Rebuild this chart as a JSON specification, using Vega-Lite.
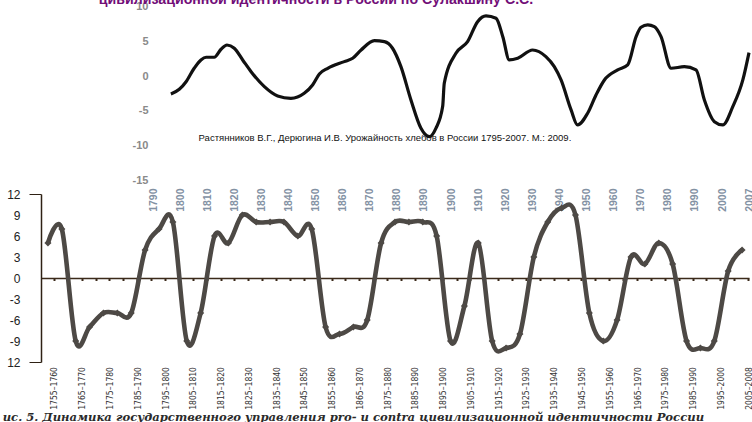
{
  "$schema": "https://vega.github.io/schema/vega-lite/v6.json",
  "background": "white",
  "padding": {"left": 2, "top": 0, "right": 0, "bottom": 0},
  "autosize": {"type": "pad"},
  "config": {"view": {"stroke": null}, "axis": {"grid": false, "labelOverlap": false}},
  "spacing": 14,
  "bounds": "flush",
  "vconcat": [
    {
      "width": 708,
      "height": 180,
      "encoding": {
        "x": {
          "field": "year", "type": "quantitative",
          "scale": {"domain": [1790, 2000, 2007], "range": [112, 681, 708], "nice": false, "zero": false},
          "axis": {
            "values": [1790, 1800, 1810, 1820, 1830, 1840, 1850, 1860, 1870, 1880, 1890, 1900, 1910, 1920, 1930, 1940, 1950, 1960, 1970, 1980, 1990, 2000, 2007],
            "format": "d", "labelAngle": 270, "labelPadding": 8, "domain": false, "ticks": false,
            "labelFont": "Liberation Sans", "labelFontSize": 10.5, "labelFontWeight": "bold",
            "labelColor": "#8391a3", "title": null, "labelOverlap": false, "labelFlush": false, "labelSeparation": 0
          }
        },
        "y": {
          "field": "value", "type": "quantitative",
          "scale": {"domain": [-15, 11], "nice": false, "zero": false},
          "axis": {
            "values": [-15, -10, -5, 0, 5, 10], "offset": -112, "domain": false, "ticks": false,
            "labelPadding": 5, "labelExpr": "toString(datum.value)", "labelOverlap": false, "labelFlush": false,
            "labelFont": "Liberation Sans", "labelFontWeight": "bold", "labelFontSize": 11,
            "labelColor": "#8a8a8a", "title": null
          }
        }
      },
      "layer": [
        {
          "data": {"values": [
            {"year": 1796.6, "value": -2.57}, {"year": 1799.7, "value": -1.9}, {"year": 1802.2, "value": -0.8},
            {"year": 1805.2, "value": 1.14}, {"year": 1807.7, "value": 2.34}, {"year": 1809.6, "value": 2.73},
            {"year": 1812.6, "value": 2.73}, {"year": 1815.1, "value": 3.88}, {"year": 1817.3, "value": 4.5},
            {"year": 1820.0, "value": 4.03}, {"year": 1823.1, "value": 2.34}, {"year": 1826.2, "value": 0.65},
            {"year": 1831.1, "value": -1.52}, {"year": 1836.0, "value": -2.86}, {"year": 1840.9, "value": -3.2},
            {"year": 1845.8, "value": -2.47}, {"year": 1848.9, "value": -1.27}, {"year": 1851.4, "value": 0.32},
            {"year": 1854.5, "value": 1.14}, {"year": 1860.6, "value": 2.1}, {"year": 1863.7, "value": 2.58},
            {"year": 1866.8, "value": 3.78}, {"year": 1871.7, "value": 5.13}, {"year": 1875.4, "value": 4.98},
            {"year": 1878.4, "value": 4.03}, {"year": 1881.5, "value": 1.37}, {"year": 1885.2, "value": -3.44},
            {"year": 1888.9, "value": -7.53}, {"year": 1892.0, "value": -8.74}, {"year": 1894.4, "value": -7.53},
            {"year": 1896.9, "value": -4.4}, {"year": 1897.5, "value": -1.03}, {"year": 1901.8, "value": 3.3},
            {"year": 1906.1, "value": 4.98}, {"year": 1909.8, "value": 7.87}, {"year": 1912.9, "value": 8.7},
            {"year": 1916.6, "value": 8.36}, {"year": 1919.1, "value": 5.7}, {"year": 1921.5, "value": 2.34},
            {"year": 1924.6, "value": 2.58}, {"year": 1930.1, "value": 3.78}, {"year": 1935.0, "value": 2.82},
            {"year": 1938.1, "value": 1.37}, {"year": 1940.6, "value": -0.55}, {"year": 1944.3, "value": -4.88},
            {"year": 1946.7, "value": -7.05}, {"year": 1950.4, "value": -5.36}, {"year": 1953.5, "value": -2.72},
            {"year": 1956.6, "value": -0.55}, {"year": 1961.5, "value": 0.9}, {"year": 1965.2, "value": 1.62},
            {"year": 1968.3, "value": 5.7}, {"year": 1970.1, "value": 7.06}, {"year": 1972.6, "value": 7.4},
            {"year": 1975.0, "value": 7.15}, {"year": 1977.5, "value": 5.7}, {"year": 1981.2, "value": 1.14},
            {"year": 1986.1, "value": 1.37}, {"year": 1990.4, "value": 0.9}, {"year": 1993.5, "value": -3.44},
            {"year": 1997.2, "value": -6.57}, {"year": 2000.2, "value": -7.05}, {"year": 2002.8, "value": -4.4},
            {"year": 2005.4, "value": -0.55}, {"year": 2007.0, "value": 3.4}
          ]},
          "mark": {"type": "line", "interpolate": "monotone", "color": "#111111", "strokeWidth": 3.2}
        },
        {
          "data": {"values": [{"note": "Растянников В.Г., Дерюгина И.В. Урожайность хлебов в России 1795-2007. М.: 2009.", "year": 1875.6, "value": -8.9}]},
          "mark": {"type": "text", "align": "center", "baseline": "middle", "font": "Liberation Sans", "fontSize": 9.5, "color": "#111111"},
          "encoding": {"text": {"field": "note"}}
        },
        {
          "data": {"values": [{"note": "цивилизационной идентичности в России по Сулакшину С.С.", "year": 1770, "value": 10.4}]},
          "mark": {"type": "text", "clip": true, "align": "left", "baseline": "alphabetic", "font": "Liberation Sans", "fontSize": 14.2, "fontWeight": "bold", "color": "#720e78"},
          "encoding": {"text": {"field": "note"}}
        }
      ]
    },
    {
      "width": 708,
      "height": 168,
      "data": {"values": [
        {"period": "1755–1760", "score": 5}, {"period": "1760–1765", "score": 7}, {"period": "1765–1770", "score": -9},
        {"period": "1770–1775", "score": -7}, {"period": "1775–1780", "score": -5}, {"period": "1780–1785", "score": -5},
        {"period": "1785–1790", "score": -5}, {"period": "1790–1795", "score": 4}, {"period": "1795–1800", "score": 7},
        {"period": "1800–1805", "score": 8}, {"period": "1805–1810", "score": -9}, {"period": "1810–1815", "score": -5},
        {"period": "1815–1820", "score": 6}, {"period": "1820–1825", "score": 5}, {"period": "1825–1830", "score": 9},
        {"period": "1830–1835", "score": 8}, {"period": "1835–1840", "score": 8}, {"period": "1840–1845", "score": 8},
        {"period": "1845–1850", "score": 6}, {"period": "1850–1855", "score": 7}, {"period": "1855–1860", "score": -7},
        {"period": "1860–1865", "score": -8}, {"period": "1865–1870", "score": -7}, {"period": "1870–1875", "score": -6},
        {"period": "1875–1880", "score": 5}, {"period": "1880–1885", "score": 8}, {"period": "1885–1890", "score": 8},
        {"period": "1890–1895", "score": 8}, {"period": "1895–1900", "score": 6}, {"period": "1900–1905", "score": -9},
        {"period": "1905–1910", "score": -4}, {"period": "1910–1915", "score": 5}, {"period": "1915–1920", "score": -9},
        {"period": "1920–1925", "score": -10}, {"period": "1925–1930", "score": -8}, {"period": "1930–1935", "score": 3},
        {"period": "1935–1940", "score": 8}, {"period": "1940–1945", "score": 10}, {"period": "1945–1950", "score": 9},
        {"period": "1950–1955", "score": -5}, {"period": "1955–1960", "score": -9}, {"period": "1960–1965", "score": -6},
        {"period": "1965–1970", "score": 3}, {"period": "1970–1975", "score": 2}, {"period": "1975–1980", "score": 5},
        {"period": "1980–1985", "score": 2}, {"period": "1985–1990", "score": -9}, {"period": "1990–1995", "score": -10},
        {"period": "1995–2000", "score": -9}, {"period": "2000–2005", "score": 1}, {"period": "2005–2008", "score": 4}
      ]},
      "title": {
        "text": "ис. 5. Динамика государственного управления pro- и contra цивилизационной идентичности России",
        "orient": "bottom", "anchor": "start", "frame": "bounds", "dx": -4, "offset": 3,
        "font": "DejaVu Serif", "fontSize": 11.6, "fontStyle": "italic", "fontWeight": "bold", "color": "#2a2a2a"
      },
      "encoding": {
        "x": {
          "field": "period", "type": "ordinal", "sort": null,
          "scale": {"type": "point", "padding": 0.5},
          "axis": {
            "offset": -84, "labelAngle": 270, "labelPadding": 86, "tickSize": 2.5, "tickWidth": 2,
            "tickColor": "#3b2a1a", "tickOffset": 6, "domainColor": "#3b2a1a", "domainWidth": 1.5,
            "labelExpr": "substring(datum.value, 3, 4) == '5' ? datum.value : ''", "labelOverlap": false,
            "labelFont": "'Liberation Sans Narrow', 'DejaVu Sans Condensed', 'Liberation Sans', sans-serif", "labelFontSize": 8.5, "labelColor": "#333333", "title": null
          }
        },
        "y": {
          "field": "score", "type": "quantitative",
          "scale": {"domain": [-12, 12], "nice": false, "zero": false},
          "axis": {
            "values": [-12, -9, -6, -3, 0, 3, 6, 9, 12],
            "labelExpr": "datum.value == -12 ? '12' : toString(datum.value)",
            "domainColor": "#2e2114", "domainWidth": 1.5, "tickSize": 12, "tickColor": "#2e2114",
            "tickOpacity": {"condition": {"test": "abs(datum.value) == 12", "value": 1}, "value": 0},
            "labelPadding": 9, "labelFont": "Liberation Sans", "labelFontSize": 12, "labelColor": "#222222", "title": null
          }
        }
      },
      "layer": [
        {"mark": {"type": "line", "interpolate": "cardinal", "color": "#4d4945", "strokeWidth": 4.6}},
        {"mark": {"type": "point", "shape": "diamond", "filled": true, "size": 50, "color": "#4d4945", "opacity": 1}}
      ]
    }
  ]
}
